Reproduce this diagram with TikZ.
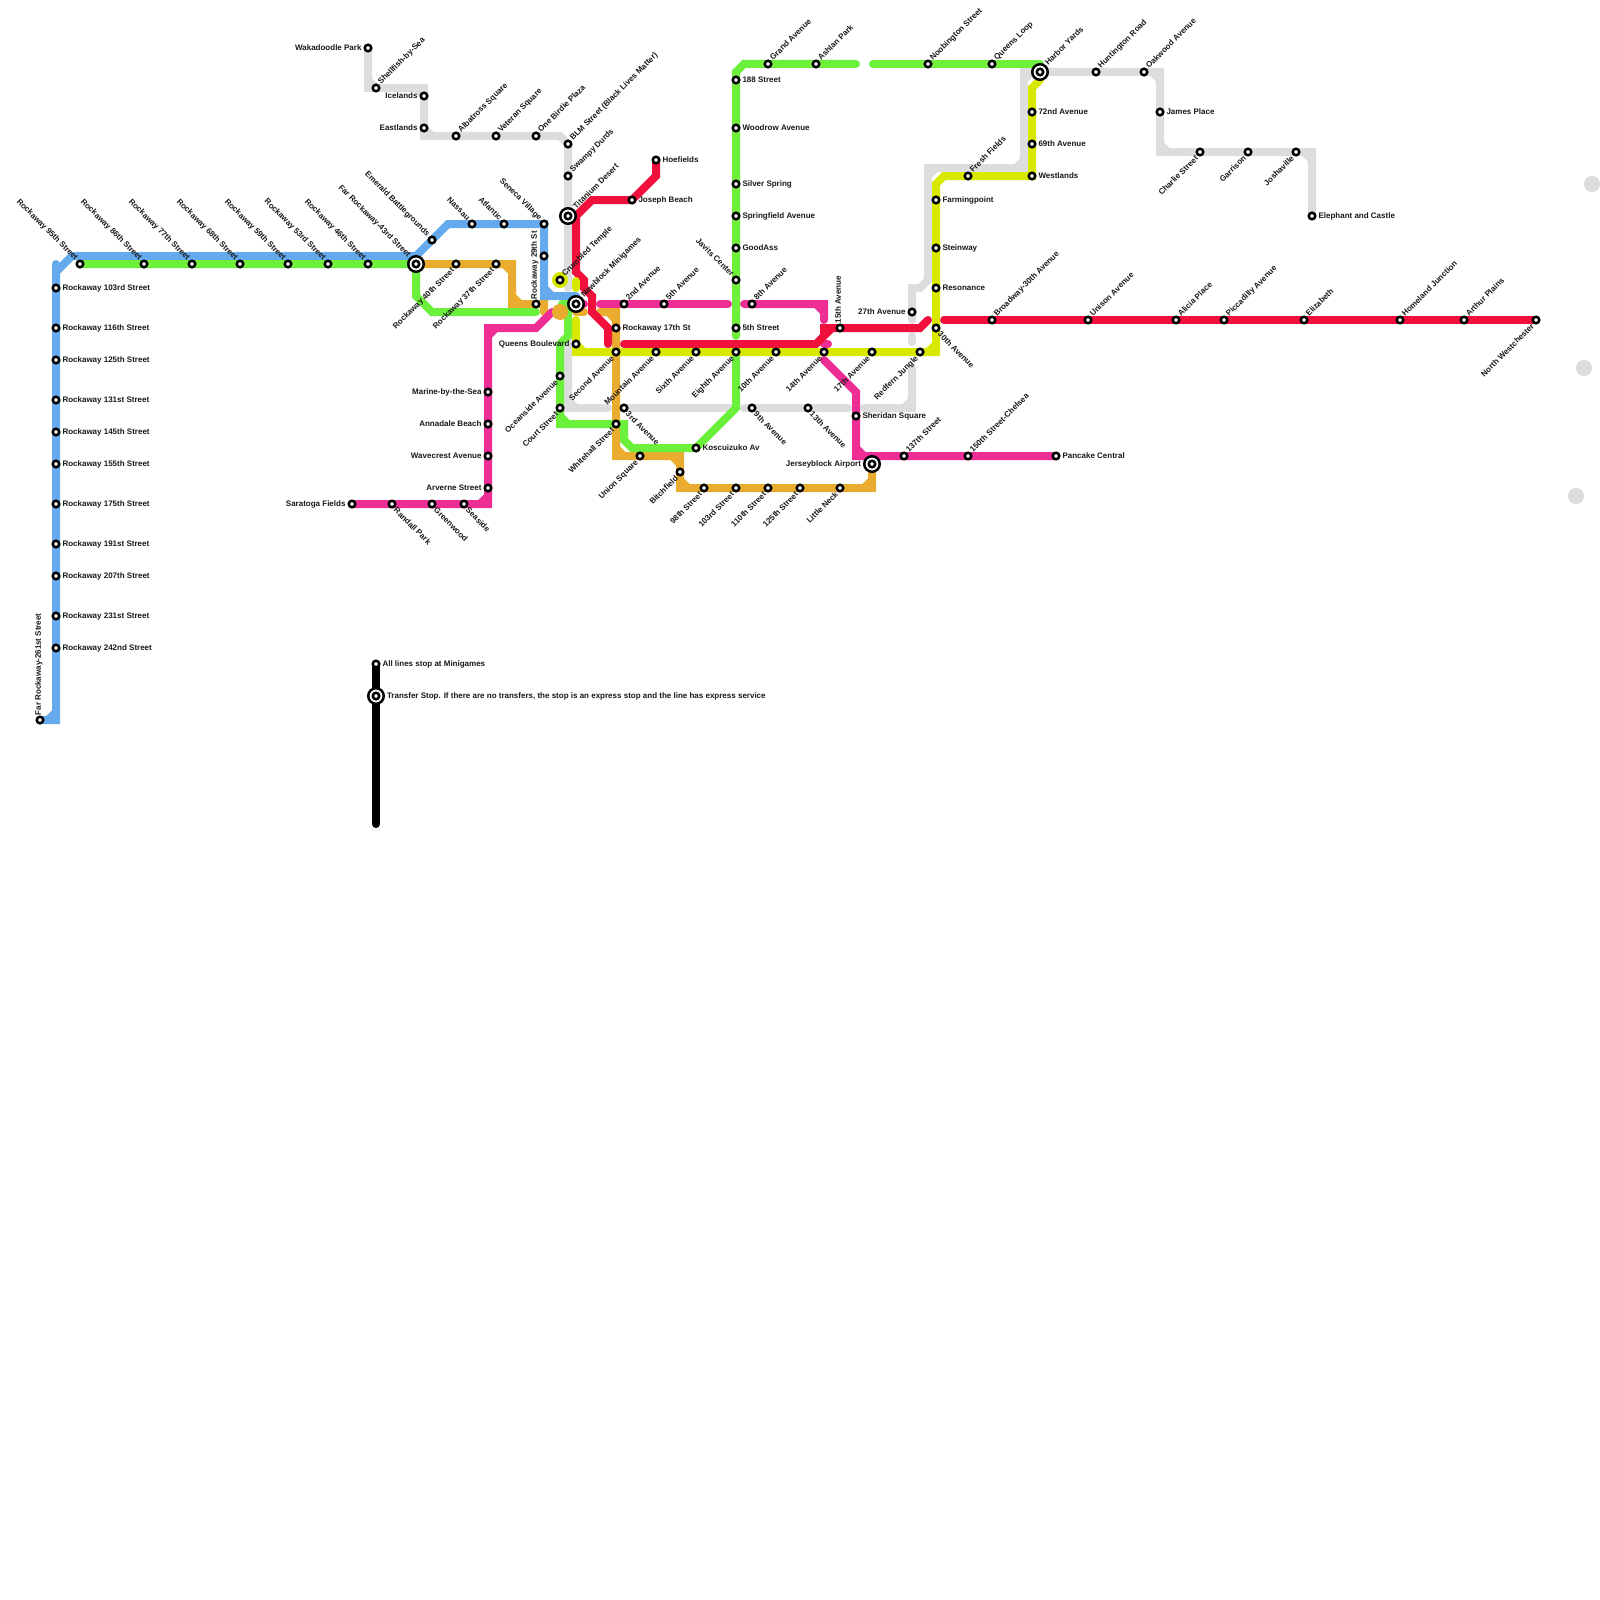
\documentclass[tikz,border=0pt]{standalone}
\usepackage{fontspec}
\setmainfont{Liberation Sans}
\usepackage{tikz}
\definecolor{lineblue}{RGB}{100, 170, 236}
\definecolor{linegreen}{RGB}{108, 240, 60}
\definecolor{lineorange}{RGB}{233, 172, 47}
\definecolor{linemagenta}{RGB}{238, 46, 148}
\definecolor{linered}{RGB}{240, 16, 60}
\definecolor{lineyellow}{RGB}{216, 232, 0}
\definecolor{linegrey}{RGB}{221, 221, 221}
\tikzset{
	labelgap/.initial=1.8pt,
	track/.style={line width=8pt, line cap=round, line join=miter},
	blob/.style={circle, fill=#1, minimum size=16pt, inner sep=0pt, draw=none},
	stop/.style={circle, draw=black, line width=2.5pt, fill=white, minimum size=6.5pt, inner sep=0pt},
	bigstop/.style={circle, draw=black, line width=2.5pt, fill=white, minimum size=15.5pt, inner sep=0pt, labelgap=3pt},
	ringstop/.style={circle, draw=black, line width=2.5pt, fill=white, minimum size=6.5pt, inner sep=0pt},
	stopname/.style={font=\bfseries\fontsize{8}{8}\selectfont, inner sep=0pt, text=black!90, label distance=\pgfkeysvalueof{/tikz/labelgap}},
	lblE/.style={label={[stopname, anchor=mid west]0:#1}},
	lblW/.style={label={[stopname, anchor=mid east]180:#1}},
	lblN/.style={label={[stopname, anchor=mid west, rotate=90]90:#1}},
	lblNE/.style={label={[stopname, anchor=mid west, rotate=45]45:#1}},
	lblSE/.style={label={[stopname, anchor=mid west, rotate=-45]-45:#1}},
	lblNW/.style={label={[stopname, anchor=mid east, rotate=-45]135:#1}},
	lblSW/.style={label={[stopname, anchor=mid east, rotate=45]225:#1}},
}

\begin{document}
\begin{tikzpicture}[x=1pt, y=-1pt]
	\useasboundingbox (0,0) rectangle (1600,1600);
	\fill[white] (0,0) rectangle (1600,1600);

	% Grey dots on the right edge
	\node[blob=linegrey] (dotA) at (1592,184) {};
	\node[blob=linegrey] (dotB) at (1584,368) {};
	\node[blob=linegrey] (dotC) at (1576,496) {};

	% --- Grey line ---
	\draw[track, linegrey] (368,48) -- (368,88) -- (424,88) -- (424,136) -- (560,136) -- (568,144) -- (568,288)
		(368,80) -- (376,88) (416,88) -- (424,96) (424,128) -- (432,136);
	\node[blob=linegrey] (greydot) at (568,304) {};
	\draw[track, linegrey] (568,330) -- (568,408) -- (608,408)
		(568,400) -- (576,408);
	\draw[track, linegrey] (624,408) -- (732,408);
	\draw[track, linegrey] (744,408) -- (848,408);
	\draw[track, linegrey] (864,408) -- (912,408) -- (912,368) (904,408) -- (912,400);
	\draw[track, linegrey] (912,336) -- (912,342);
	\draw[track, linegrey] (912,320) -- (912,288) -- (920,288) -- (928,280) -- (928,168) -- (1024,168) -- (1024,72) -- (1160,72) -- (1160,152) -- (1312,152) -- (1312,216)
		(928,176) -- (936,168) (1016,168) -- (1024,160) (1024,80) -- (1032,72)
		(1152,72) -- (1160,80) (1160,144) -- (1168,152) (1304,152) -- (1312,160);

	% --- Orange line ---
	\draw[track, lineorange] (416,264) -- (512,264) -- (512,304) -- (544,304) -- (544,312)
		(504,264) -- (512,272) (512,296) -- (520,304);
	\draw[track, lineorange] (576,312) -- (584,312);
	\draw[track, lineorange] (600,312) -- (616,312) -- (616,456) -- (680,456) -- (680,488) -- (872,488) -- (872,464)
		(608,312) -- (616,320) (616,448) -- (624,456) (672,456) -- (680,464) (680,480) -- (688,488) (864,488) -- (872,480);

	% --- Blue line ---
	\draw[track, lineblue] (40,720) -- (56,720) -- (56,264) (48,720) -- (56,712)
		(56,272) -- (72,256) -- (416,256) -- (448,224) -- (544,224) -- (544,296) -- (576,296)
		(544,288) -- (552,296);

	% --- Magenta line ---
	\draw[track, linemagenta] (352,504) -- (488,504) -- (488,328) -- (536,328) -- (552,312)
		(480,504) -- (488,496) (488,336) -- (496,328);
	\draw[track, linemagenta] (578,304) -- (584,304);
	\draw[track, linemagenta] (600,304) -- (728,304);
	\draw[track, linemagenta] (744,304) -- (824,304) -- (824,320) (816,304) -- (824,312);
	\draw[track, linemagenta] (824,344) -- (828,344) (824,360) -- (856,392) -- (856,456) -- (1056,456)
		(856,448) -- (864,456);

	% --- Green line ---
	\draw[track, linegreen] (80,264) -- (416,264) -- (416,296) -- (432,312) -- (536,312);
	\draw[track, linegreen] (562,304) -- (568,304) -- (568,336) -- (560,344) -- (560,424) -- (624,424) -- (624,440) -- (632,448) -- (696,448) -- (736,408) -- (736,352)
		(560,416) -- (568,424);
	\draw[track, linegreen] (736,336) -- (736,72) -- (744,64) -- (856,64);
	\draw[track, linegreen] (873,64) -- (1040,64);
	\node[blob=lineorange] (orangedot) at (560,312) {};

	% --- Red line ---
	\draw[track, linered] (656,160) -- (656,176) -- (632,200) -- (592,200) -- (576,216) -- (576,272) -- (584,280) -- (584,288) -- (592,296) -- (592,312) -- (608,328) -- (608,344);
	\draw[track, linered] (624,344) -- (816,344) -- (832,328) (824,336) -- (824,328) -- (920,328) -- (928,320);
	\draw[track, linered] (944,320) -- (1536,320);

	% --- Yellow line ---
	\node[blob=lineyellow] (yellowdot) at (560,280) {};
	\draw[track, lineyellow] (576,281) -- (576,288);
	\draw[track, lineyellow] (576,320) -- (576,352) -- (936,352) -- (936,184) -- (944,176) -- (1032,176) -- (1032,88) -- (1040,80)
		(576,344) -- (584,352) (928,352) -- (936,344);

	% --- Black legend line ---
	\draw[track, black] (376,664) -- (376,824);

	% --- Stops: blue line ---
	\node[stop, lblN={Far Rockaway-261st Street}] (farrock261) at (40,720) {};
	\node[stop, lblE={Rockaway 242nd Street}] (rock242) at (56,648) {};
	\node[stop, lblE={Rockaway 231st Street}] (rock231) at (56,616) {};
	\node[stop, lblE={Rockaway 207th Street}] (rock207) at (56,576) {};
	\node[stop, lblE={Rockaway 191st Street}] (rock191) at (56,544) {};
	\node[stop, lblE={Rockaway 175th Street}] (rock175) at (56,504) {};
	\node[stop, lblE={Rockaway 155th Street}] (rock155) at (56,464) {};
	\node[stop, lblE={Rockaway 145th Street}] (rock145) at (56,432) {};
	\node[stop, lblE={Rockaway 131st Street}] (rock131) at (56,400) {};
	\node[stop, lblE={Rockaway 125th Street}] (rock125) at (56,360) {};
	\node[stop, lblE={Rockaway 116th Street}] (rock116) at (56,328) {};
	\node[stop, lblE={Rockaway 103rd Street}] (rock103) at (56,288) {};
	\node[stop, lblNW={Rockaway 95th Street}] (rock95) at (80,264) {};
	\node[stop, lblNW={Rockaway 86th Street}] (rock86) at (144,264) {};
	\node[stop, lblNW={Rockaway 77th Street}] (rock77) at (192,264) {};
	\node[stop, lblNW={Rockaway 68th Street}] (rock68) at (240,264) {};
	\node[stop, lblNW={Rockaway 59th Street}] (rock59) at (288,264) {};
	\node[stop, lblNW={Rockaway 53rd Street}] (rock53) at (328,264) {};
	\node[stop, lblNW={Rockaway 46th Street}] (rock46) at (368,264) {};
	\node[bigstop, lblNW={Far Rockaway-43rd Street}] (farrock43) at (416,264) {};
	\node[ringstop] (farrock43in) at (416,264) {};
	\node[stop, lblNW={Emerald Battlegrounds}] (emerald) at (432,240) {};
	\node[stop, lblNW={Nassau}] (nassau) at (472,224) {};
	\node[stop, lblNW={Atlantic}] (atlantic) at (504,224) {};
	\node[stop, lblNW={Seneca Village}] (seneca) at (544,224) {};
	\node[stop] (blueplain) at (544,256) {};

	% --- Stops: orange line ---
	\node[stop, lblSW={Rockaway 40th Street}] (rock40) at (456,264) {};
	\node[stop, lblSW={Rockaway 37th Street}] (rock37) at (496,264) {};
	\node[stop, lblN={Rockaway 29th St}] (rock29) at (536,304) {};
	\node[stop, lblE={Rockaway 17th St}] (rock17) at (616,328) {};
	\node[stop, lblSE={3rd Avenue}] (third) at (624,408) {};
	\node[stop, lblSW={Whitehall Street}] (whitehall) at (616,424) {};
	\node[stop, lblSW={Union Square}] (unionsq) at (640,456) {};
	\node[stop, lblSW={Bitchfield}] (bitchfield) at (680,472) {};
	\node[stop, lblSW={98th Street}] (st98) at (704,488) {};
	\node[stop, lblSW={103rd Street}] (st103) at (736,488) {};
	\node[stop, lblSW={110th Street}] (st110) at (768,488) {};
	\node[stop, lblSW={125th Street}] (st125) at (800,488) {};
	\node[stop, lblSW={Little Neck}] (littleneck) at (840,488) {};

	% --- Stops: grey line ---
	\node[stop, lblW={Wakadoodle Park}] (wakadoodle) at (368,48) {};
	\node[stop, lblNE={Shellfish-by-Sea}] (shellfish) at (376,88) {};
	\node[stop, lblW={Icelands}] (icelands) at (424,96) {};
	\node[stop, lblW={Eastlands}] (eastlands) at (424,128) {};
	\node[stop, lblNE={Albatross Square}] (albatross) at (456,136) {};
	\node[stop, lblNE={Veteran Square}] (veteran) at (496,136) {};
	\node[stop, lblNE={One Birdie Plaza}] (birdie) at (536,136) {};
	\node[stop, lblNE={BLM Street (Black Lives Matter)}] (blm) at (568,144) {};
	\node[stop, lblNE={Swampy Durds}] (swampy) at (568,176) {};
	\node[bigstop, lblNE={Titanium Desert}] (titanium) at (568,216) {};
	\node[ringstop] (titaniumin) at (568,216) {};
	\node[stop, lblNE={Crumbled Temple}] (crumbled) at (560,280) {};
	\node[bigstop, lblNE={Newblock Minigames}] (newblock) at (576,304) {};
	\node[ringstop] (newblockin) at (576,304) {};
	\node[stop, lblW={Queens Boulevard}] (queensblvd) at (576,344) {};
	\node[stop, lblSW={Oceanside Avenue}] (oceanside) at (560,376) {};
	\node[stop, lblSW={Court Street}] (court) at (560,408) {};
	\node[stop, lblSE={9th Avenue}] (ninth) at (752,408) {};
	\node[stop, lblSE={13th Avenue}] (thirteenth) at (808,408) {};
	\node[stop, lblW={27th Avenue}] (twentyseventh) at (912,312) {};
	\node[stop, lblNE={Huntington Road}] (huntington) at (1096,72) {};
	\node[stop, lblNE={Oakwood Avenue}] (oakwood) at (1144,72) {};
	\node[stop, lblE={James Place}] (james) at (1160,112) {};
	\node[stop, lblSW={Charlie Street}] (charlie) at (1200,152) {};
	\node[stop, lblSW={Garrison}] (garrison) at (1248,152) {};
	\node[stop, lblSW={Joshaville}] (joshaville) at (1296,152) {};
	\node[stop, lblE={Elephant and Castle}] (elephant) at (1312,216) {};

	% --- Stops: red line ---
	\node[stop, lblE={Hoefields}] (hoefields) at (656,160) {};
	\node[stop, lblE={Joseph Beach}] (joseph) at (632,200) {};
	\node[stop, lblN={15th Avenue}] (fifteenth) at (840,328) {};
	\node[stop, lblNE={Broadway-30th Avenue}] (broadway) at (992,320) {};
	\node[stop, lblNE={Unison Avenue}] (unison) at (1088,320) {};
	\node[stop, lblNE={Alicia Place}] (alicia) at (1176,320) {};
	\node[stop, lblNE={Piccadilly Avenue}] (piccadilly) at (1224,320) {};
	\node[stop, lblNE={Elizabeth}] (elizabeth) at (1304,320) {};
	\node[stop, lblNE={Homeland Junction}] (homeland) at (1400,320) {};
	\node[stop, lblNE={Arthur Plains}] (arthur) at (1464,320) {};
	\node[stop, lblSW={North Westchester}] (westchester) at (1536,320) {};

	% --- Stops: magenta line ---
	\node[stop, lblW={Saratoga Fields}] (saratoga) at (352,504) {};
	\node[stop, lblSE={Randall Park}] (randall) at (392,504) {};
	\node[stop, lblSE={Greenwood}] (greenwood) at (432,504) {};
	\node[stop, lblSE={Seaside}] (seaside) at (464,504) {};
	\node[stop, lblW={Arverne Street}] (arverne) at (488,488) {};
	\node[stop, lblW={Wavecrest Avenue}] (wavecrest) at (488,456) {};
	\node[stop, lblW={Annadale Beach}] (annadale) at (488,424) {};
	\node[stop, lblW={Marine-by-the-Sea}] (marine) at (488,392) {};
	\node[stop, lblNE={2nd Avenue}] (secondav) at (624,304) {};
	\node[stop, lblNE={5th Avenue}] (fifthav) at (664,304) {};
	\node[stop, lblNE={8th Avenue}] (eighthav) at (752,304) {};
	\node[stop, lblE={Sheridan Square}] (sheridan) at (856,416) {};
	\node[bigstop, lblW={Jerseyblock Airport}] (jerseyblock) at (872,464) {};
	\node[ringstop] (jerseyblockin) at (872,464) {};
	\node[stop, lblNE={137th Street}] (st137) at (904,456) {};
	\node[stop, lblNE={150th Street-Chelsea}] (st150) at (968,456) {};
	\node[stop, lblE={Pancake Central}] (pancake) at (1056,456) {};

	% --- Stops: green line ---
	\node[stop, lblE={188 Street}] (st188) at (736,80) {};
	\node[stop, lblE={Woodrow Avenue}] (woodrow) at (736,128) {};
	\node[stop, lblE={Silver Spring}] (silver) at (736,184) {};
	\node[stop, lblE={Springfield Avenue}] (springfield) at (736,216) {};
	\node[stop, lblE={GoodAss}] (goodass) at (736,248) {};
	\node[stop, lblNW={Javits Center}] (javits) at (736,280) {};
	\node[stop, lblE={5th Street}] (fifthst) at (736,328) {};
	\node[stop, lblE={Koscuizuko Av}] (koscuizuko) at (696,448) {};
	\node[stop, lblNE={Grand Avenue}] (grandav) at (768,64) {};
	\node[stop, lblNE={Ashlan Park}] (ashlan) at (816,64) {};
	\node[stop, lblNE={Noobington Street}] (noobington) at (928,64) {};
	\node[stop, lblNE={Queens Loop}] (queensloop) at (992,64) {};

	% --- Stops: yellow line ---
	\node[stop, lblSW={Second Avenue}] (secondave) at (616,352) {};
	\node[stop, lblSW={Mountain Avenue}] (mountain) at (656,352) {};
	\node[stop, lblSW={Sixth Avenue}] (sixth) at (696,352) {};
	\node[stop, lblSW={Eighth Avenue}] (eighth) at (736,352) {};
	\node[stop, lblSW={10th Avenue}] (tenth) at (776,352) {};
	\node[stop, lblSW={14th Avenue}] (fourteenth) at (824,352) {};
	\node[stop, lblSW={17th Avenue}] (seventeenth) at (872,352) {};
	\node[stop, lblSW={Redfern Jungle}] (redfern) at (920,352) {};
	\node[stop, lblSE={30th Avenue}] (thirtieth) at (936,328) {};
	\node[stop, lblE={Resonance}] (resonance) at (936,288) {};
	\node[stop, lblE={Steinway}] (steinway) at (936,248) {};
	\node[stop, lblE={Farmingpoint}] (farmingpoint) at (936,200) {};
	\node[stop, lblNE={Fresh Fields}] (freshfields) at (968,176) {};
	\node[stop, lblE={Westlands}] (westlands) at (1032,176) {};
	\node[stop, lblE={69th Avenue}] (sixtyninth) at (1032,144) {};
	\node[stop, lblE={72nd Avenue}] (seventysecond) at (1032,112) {};
	\node[bigstop, lblNE={Harbor Yards}] (harbor) at (1040,72) {};
	\node[ringstop] (harborin) at (1040,72) {};

	% Legende
	\node[stop, lblE={All lines stop at Minigames}] (legendstop) at (376,664) {};
	\node[bigstop, lblE={Transfer Stop. If there are no transfers, the stop is an express stop and the line has express service}] (legendtransfer) at (376,696) {};
	\node[ringstop] (legendtransferin) at (376,696) {};
\end{tikzpicture}
\end{document}
